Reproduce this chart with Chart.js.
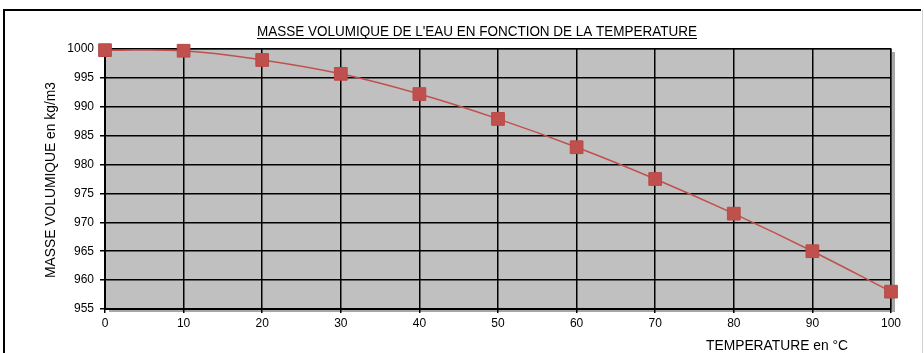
<!DOCTYPE html>
<html>
<head>
<meta charset="utf-8">
<script src="https://cdn.jsdelivr.net/npm/chart.js@4"></script>
<style>
  html, body { margin: 0; padding: 0; background: #fff; }
  #wrap { width: 924px; height: 353px; position: relative; }
</style>
</head>
<body>
<div id="wrap"><canvas id="chart"></canvas></div>
<script>
// values
const temperatures = [0, 10, 20, 30, 40, 50, 60, 70, 80, 90, 100];
const densities = [999.8, 999.7, 998.1, 995.7, 992.2, 987.9, 983.0, 977.5, 971.5, 965.0, 958.0];
const chartTitle = "MASSE VOLUMIQUE DE L'EAU EN FONCTION DE LA TEMPERATURE";
const yTitle = 'MASSE VOLUMIQUE en kg/m3';
const xTitle = 'TEMPERATURE en °C';

const fontFamily = '"Liberation Sans", Arial, sans-serif';
const red = '#C0504D';

// frame, grey plot area and texts
const decorPlugin = {
  id: 'decor',
  beforeDraw(chart) {
    const ctx = chart.ctx;
    const a = chart.chartArea;
    ctx.save();
    // outer frame
    ctx.strokeStyle = '#000';
    ctx.lineWidth = 2;
    ctx.beginPath();
    ctx.moveTo(4, 360);
    ctx.lineTo(4, 10);
    ctx.lineTo(921, 10);
    ctx.stroke();
    ctx.strokeStyle = '#d0d0d0';
    ctx.lineWidth = 1;
    ctx.beginPath();
    ctx.moveTo(922.5, 10);
    ctx.lineTo(922.5, 360);
    ctx.stroke();
    // shadow + plot background
    ctx.fillStyle = '#a6a6a6';
    ctx.fillRect(a.left + 4, a.top + 3, a.right - a.left, a.bottom - a.top);
    ctx.fillStyle = '#C0C0C0';
    ctx.fillRect(a.left, a.top, a.right - a.left, a.bottom - a.top);
    ctx.strokeStyle = '#808080';
    ctx.lineWidth = 2;
    ctx.beginPath();
    ctx.moveTo(a.left, a.top);
    ctx.lineTo(a.right, a.top);
    ctx.lineTo(a.right, a.bottom);
    ctx.stroke();
    ctx.restore();
  },
  afterDraw(chart) {
    const ctx = chart.ctx;
    ctx.save();
    ctx.fillStyle = '#000';
    ctx.strokeStyle = '#000';
    // title, condensed and underlined
    ctx.font = '14px ' + fontFamily;
    ctx.textAlign = 'center';
    ctx.textBaseline = 'alphabetic';
    const tw = Math.min(ctx.measureText(chartTitle).width, 440);
    ctx.fillText(chartTitle, 477, 36, 440);
    ctx.lineWidth = 1;
    ctx.beginPath();
    ctx.moveTo(477 - tw / 2, 38.5);
    ctx.lineTo(477 + tw / 2, 38.5);
    ctx.stroke();
    // x axis title
    ctx.textBaseline = 'middle';
    ctx.fillText(xTitle, 777, 346, 142);
    // y axis title
    ctx.translate(51, 180);
    ctx.rotate(-Math.PI / 2);
    ctx.fillText(yTitle, 0, 0, 196);
    ctx.restore();
  }
};

new Chart(document.getElementById('chart'), {
  type: 'line',
  data: {
    datasets: [{
      data: temperatures.map((t, i) => ({ x: t, y: densities[i] })),
      borderColor: red,
      borderWidth: 1.5,
      backgroundColor: red,
      pointStyle: 'rect',
      pointRadius: 9,
      pointBorderWidth: 1,
      pointBorderColor: '#b84a47',
      tension: 0.4,
      clip: false
    }]
  },
  options: {
    responsive: true,
    maintainAspectRatio: false,
    animation: false,
    events: [],
    layout: { padding: { top: 49, right: 33, left: 0, bottom: 0 } },
    plugins: { legend: { display: false }, tooltip: { enabled: false }, title: { display: false } },
    scales: {
      x: {
        type: 'linear',
        min: 0,
        max: 100,
        ticks: { stepSize: 10, color: '#000', font: { family: fontFamily, size: 12 }, padding: 3, maxRotation: 0 },
        grid: { color: '#000', lineWidth: 1.5, tickLength: 4, drawTicks: true },
        border: { color: '#000', width: 2 },
        afterFit(scale) { scale.height = 44; }
      },
      y: {
        min: 955,
        max: 1000,
        ticks: {
          stepSize: 5, color: '#000', font: { family: fontFamily, size: 12 }, padding: 6,
          callback: (v) => String(v)
        },
        grid: { color: '#000', lineWidth: 1.5, tickLength: 5, drawTicks: true },
        border: { color: '#000', width: 2 },
        afterFit(scale) { scale.width = 105; }
      }
    }
  },
  plugins: [decorPlugin]
});
</script>
</body>
</html>
